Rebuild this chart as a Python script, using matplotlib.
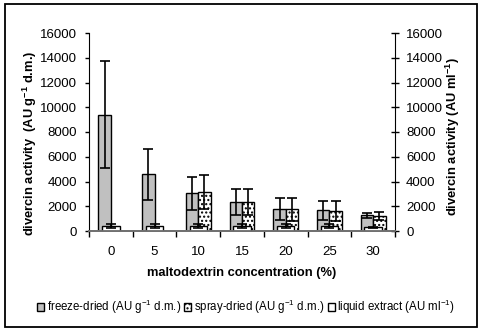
import matplotlib
matplotlib.use("Agg")
import matplotlib.pyplot as plt
from matplotlib.patches import Rectangle
import numpy as np

plt.rcParams['font.family'] = ['Liberation Sans', 'DejaVu Sans']
plt.rcParams['mathtext.default'] = 'regular'
plt.rcParams['hatch.linewidth'] = 1.0

# data
concentrations = ['0', '5', '10', '15', '20', '25', '30']
freeze_dried = [9400, 4580, 3050, 2320, 1750, 1670, 1270]
freeze_err = [4300, 2050, 1330, 1050, 900, 760, 200]
spray_dried = [0, 0, 3150, 2320, 1750, 1590, 1190]
spray_err = [0, 0, 1380, 1050, 950, 820, 310]
liquid = [380, 380, 380, 380, 380, 380, 300]
liquid_err = [160, 160, 160, 160, 160, 160, 40]

x = np.arange(len(concentrations))
w = 0.284

fig = plt.figure(figsize=(4.84, 3.34), dpi=100)
ax = fig.add_axes([89/484, 1-231/334, (395-89)/484, (231-33)/334])
ax2 = ax.twinx()

ekw = dict(elinewidth=1.2, capthick=1.2, ecolor='black')
ax.bar(x - w/2, freeze_dried, w, color='#c0c0c0', edgecolor='black', linewidth=1.0,
       yerr=freeze_err, capsize=3.5, error_kw=ekw, label='freeze-dried (AU g$^{-1}$ d.m.)')
spray_yerr = [e if v > 0 else np.nan for v, e in zip(spray_dried, spray_err)]
ax.bar(x + w/2, spray_dried, w, color='white', edgecolor='black', linewidth=1.0, hatch='....',
       yerr=spray_yerr, capsize=3.5, error_kw=ekw, label='spray-dried (AU g$^{-1}$ d.m.)')
ax2.bar(x, liquid, 0.40, color='white', edgecolor='black', linewidth=1.0,
        yerr=liquid_err, capsize=3.5, error_kw=ekw, label='liquid extract (AU ml$^{-1}$)')

for a in (ax, ax2):
    a.set_xlim(-0.5, 6.5)
    a.set_ylim(0, 16000)
    a.set_yticks(np.arange(0, 16001, 2000))
    a.spines['top'].set_visible(False)
    a.spines['bottom'].set_color('#707070')
    a.spines['bottom'].set_linewidth(1.3)
ax.spines['right'].set_visible(False)
ax2.spines['left'].set_visible(False)

ax.set_xticks(x)
ax.set_xticklabels(concentrations)
ax.set_xticks(np.arange(-0.5, 7, 1), minor=True)
ax.tick_params(axis='x', which='major', length=0, pad=11, labelsize=9.5)
ax.tick_params(axis='x', which='minor', length=4.5, width=1, direction='out')
ax.tick_params(axis='y', length=3, width=1, pad=5.5, labelsize=9.5)
ax2.tick_params(axis='y', length=6, width=1, direction='inout', pad=5, labelsize=9.5)

fig.text(242/484, 1-273/334, 'maltodextrin concentration (%)', ha='center', va='center',
         fontsize=9.3, fontweight='bold')
fig.text(30/484, 1-143/334, 'divercin activity  (AU g$^{-1}$ d.m.)', ha='center', va='center',
         rotation=90, fontsize=9.3, fontweight='bold')
fig.text(453/484, 1-137/334, 'divercin activity (AU ml$^{-1}$)', ha='center', va='center',
         rotation=90, fontsize=9.3, fontweight='bold')

h1, l1 = ax.get_legend_handles_labels()
h2, l2 = ax2.get_legend_handles_labels()
fig.legend(h1 + h2, l1 + l2, loc='center', bbox_to_anchor=(246/484, 1-307/334), ncol=3,
           frameon=False, fontsize=8.3, handlelength=0.6, handleheight=0.6,
           handletextpad=0.2, columnspacing=0.3, borderpad=0)

fig.patches.append(Rectangle((4.5/484, 1-327/334), (477-4.5)/484, (327-4)/334,
                             transform=fig.transFigure, fill=False, edgecolor='black',
                             linewidth=1.3))

fig.savefig('out.png', dpi=100)
